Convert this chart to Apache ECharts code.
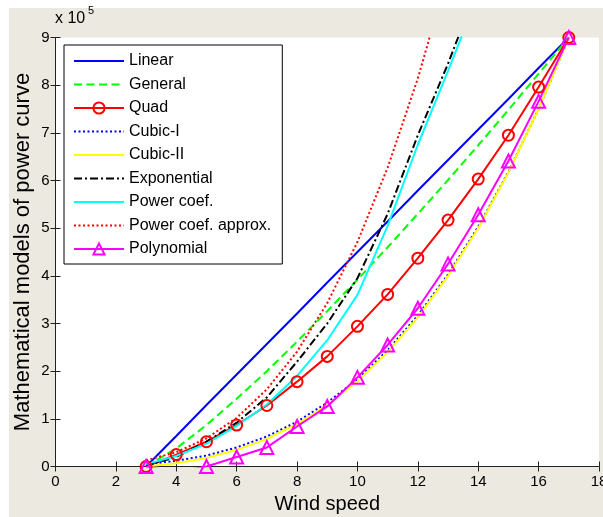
<!DOCTYPE html>
<html>
<head>
<meta charset="utf-8">
<script src="https://cdn.jsdelivr.net/npm/echarts@6/dist/echarts.min.js"></script>
<style>
  html, body { margin: 0; padding: 0; background: #fff; }
  #main { width: 603px; height: 517px; }
</style>
</head>
<body>
<div id="main"></div>
<script>
// wind speed (m/s) and power of each model, in units of 10^5
var windSpeed = [3, 4, 5, 6, 7, 8, 9, 10, 11, 12, 13, 14, 15, 16, 17];
var linearP  = [0, 0.64, 1.29, 1.93, 2.57, 3.21, 3.86, 4.5, 5.14, 5.79, 6.43, 7.07, 7.71, 8.36, 9];
var generalP = [0, 0.38, 0.87, 1.42, 2.0, 2.62, 3.26, 3.92, 4.6, 5.3, 6.01, 6.74, 7.48, 8.24, 9];
var quadP    = [0, 0.25, 0.52, 0.87, 1.28, 1.78, 2.31, 2.94, 3.61, 4.37, 5.17, 6.03, 6.95, 7.96, 9];
var cubic1P  = [0.05, 0.12, 0.23, 0.4, 0.63, 0.94, 1.34, 1.83, 2.44, 3.17, 4.03, 5.03, 6.18, 7.5, 9];
var cubic2P  = [0, 0.07, 0.18, 0.35, 0.58, 0.89, 1.29, 1.79, 2.4, 3.13, 4.0, 5.0, 6.17, 7.5, 9];
var expP     = [0.02, 0.2, 0.52, 0.92, 1.45, 2.2, 3.0, 3.95, 5.3, 6.95, 8.45, 10.1];
var powerP   = [0.05, 0.22, 0.48, 0.85, 1.3, 1.9, 2.65, 3.6, 5.05, 6.75, 8.3, 9.9];
var approxP  = [0.13, 0.3, 0.59, 1.02, 1.62, 2.41, 3.43, 4.71, 6.27, 8.14, 10.35];
var polyP    = [0, -0.12, 0, 0.2, 0.4, 0.84, 1.26, 1.87, 2.55, 3.32, 4.25, 5.28, 6.41, 7.66, 9];

var names = ['Linear', 'General', 'Quad', 'Cubic-I', 'Cubic-II', 'Exponential',
             'Power coef.', 'Power coef. approx.', 'Polynomial'];
var xTicks = [0, 2, 4, 6, 8, 10, 12, 14, 16, 18];
var yTicks = [0, 1, 2, 3, 4, 5, 6, 7, 8, 9];

var FONT = 'Liberation Sans, Arial, sans-serif';

function pairs(ys) {
  return ys.map(function (y, i) { return [windSpeed[i], y]; });
}

function line(name, ys, color, type, extra) {
  var s = {
    name: name,
    type: 'line',
    data: pairs(ys),
    symbol: 'none',
    lineStyle: { color: color, width: 2, type: type },
    // transparent so the legend shows only the line sample
    itemStyle: { color: 'rgba(0,0,0,0)', borderWidth: 0 },
    clip: true
  };
  return Object.assign(s, extra || {});
}

var myChart = echarts.init(document.getElementById('main'));

var option = {
  animation: false,
  backgroundColor: '#ECE9E0',
  textStyle: { fontFamily: FONT },
  graphic: [
    { type: 'rect', shape: { x: 0, y: 0, width: 603, height: 8 }, style: { fill: '#fff' } },
    { type: 'rect', shape: { x: 0, y: 0, width: 9, height: 517 }, style: { fill: '#fff' } },
    { type: 'text', x: 55, y: 19, style: { text: 'x 10', fontSize: 16, fontFamily: FONT, fill: '#000', verticalAlign: 'middle' } },
    { type: 'text', x: 88, y: 11, style: { text: '5', fontSize: 11, fontFamily: FONT, fill: '#000', verticalAlign: 'middle' } }
  ],
  grid: {
    left: 55.5, right: 4, top: 37.5, bottom: 50.5,
    outerBoundsMode: 'none',
    containLabel: false,
    show: true, backgroundColor: '#fff', borderWidth: 0
  },
  legend: {
    orient: 'vertical',
    left: 64, top: 45,
    padding: [8, 11, 7, 9],
    itemWidth: 50, itemHeight: 14, itemGap: 7.5,
    backgroundColor: '#fff',
    borderColor: '#000', borderWidth: 1,
    textStyle: { fontSize: 16, color: '#000', fontFamily: FONT },
    data: names
  },
  xAxis: [{
    type: 'value', min: 0, max: 18, interval: 2,
    name: 'Wind speed', nameLocation: 'middle', nameGap: 28, nameMoveOverlap: false,
    nameTextStyle: { fontSize: 20, color: '#000' },
    axisLine: { lineStyle: { color: '#222', width: 1 } },
    axisTick: { inside: true, length: 5, lineStyle: { color: '#222' } },
    axisLabel: { fontSize: 15, color: '#000', margin: 8,
      formatter: function (v) { return xTicks.indexOf(v) >= 0 ? String(v) : ''; } },
    splitLine: { show: false }
  }, {
    type: 'value', min: 0, max: 18, interval: 2, position: 'top',
    axisLine: { lineStyle: { color: '#222', width: 1 } },
    axisTick: { inside: true, length: 5, lineStyle: { color: '#222' } },
    axisLabel: { show: false },
    splitLine: { show: false }
  }],
  yAxis: [{
    type: 'value', min: 0, max: 9, interval: 1,
    name: 'Mathematical models of power curve', nameLocation: 'middle', nameGap: 22, nameMoveOverlap: false,
    nameTextStyle: { fontSize: 22, color: '#000' },
    axisLine: { show: true, lineStyle: { color: '#222', width: 1 } },
    axisTick: { show: true, inside: true, length: 5, lineStyle: { color: '#222' } },
    axisLabel: { fontSize: 15, color: '#000', margin: 6,
      formatter: function (v) { return yTicks.indexOf(v) >= 0 ? String(v) : ''; } },
    splitLine: { show: false }
  }, {
    type: 'value', min: 0, max: 9, interval: 1, position: 'right',
    axisLine: { show: true, lineStyle: { color: '#222', width: 1 } },
    axisTick: { show: true, inside: true, length: 5, lineStyle: { color: '#222' } },
    axisLabel: { show: false },
    splitLine: { show: false }
  }],
  series: [
    line('Linear', linearP, '#0000FF', 'solid'),
    line('General', generalP, '#00FF00', [8, 4.5]),
    line('Quad', quadP, '#FF0000', 'solid', {
      symbol: 'circle', symbolSize: 11, showAllSymbol: true,
      itemStyle: { color: 'rgba(255,255,255,0)', borderColor: '#FF0000', borderWidth: 2 }
    }),
    line('Cubic-I', cubic1P, '#0000FF', [2, 2.5]),
    line('Cubic-II', cubic2P, '#FFFF00', 'solid'),
    line('Exponential', expP, '#000000', [8, 3, 2, 3]),
    line('Power coef.', powerP, '#00FFFF', 'solid'),
    line('Power coef. approx.', approxP, '#FF0000', [2, 2.5]),
    line('Polynomial', polyP, '#FF00FF', 'solid', {
      symbol: 'triangle', symbolSize: 13, showAllSymbol: true,
      itemStyle: { color: 'rgba(255,255,255,0)', borderColor: '#FF00FF', borderWidth: 2 }
    })
  ]
};

myChart.setOption(option);
</script>
</body>
</html>
